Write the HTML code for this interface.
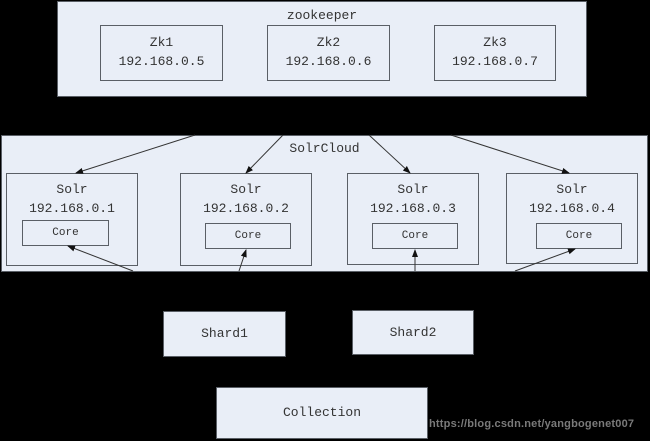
<!DOCTYPE html>
<html><head><style>
body{margin:0;width:650px;height:441px;background:#000;position:relative;overflow:hidden;font-family:"Liberation Mono","Noto Serif CJK SC",monospace;color:#333}
.b{position:absolute;background:#e9eef7;border:1px solid #5a5f66;box-sizing:border-box;text-align:center}
.t{position:absolute;left:0;right:0;text-align:center;line-height:1}
</style></head><body>
<div class="b" style="left:57px;top:1px;width:530px;height:96px"><div class="t" style="top:7px;font-size:13px">zookeeper</div></div>
<div class="b" style="left:100px;top:25px;width:123px;height:56px"><div class="t" style="top:7px;font-size:13px;line-height:19px">Zk1<br>192.168.0.5</div></div>
<div class="b" style="left:267px;top:25px;width:123px;height:56px"><div class="t" style="top:7px;font-size:13px;line-height:19px">Zk2<br>192.168.0.6</div></div>
<div class="b" style="left:434px;top:25px;width:122px;height:56px"><div class="t" style="top:7px;font-size:13px;line-height:19px">Zk3<br>192.168.0.7</div></div>

<div class="b" style="left:1px;top:135px;width:647px;height:137px"><div class="t" style="top:6px;font-size:13px">SolrCloud</div></div>
<div class="b" style="left:6px;top:173px;width:132px;height:93px"><div class="t" style="top:6px;font-size:13px;line-height:19px">Solr<br>192.168.0.1</div></div>
<div class="b" style="left:180px;top:173px;width:132px;height:93px"><div class="t" style="top:6px;font-size:13px;line-height:19px">Solr<br>192.168.0.2</div></div>
<div class="b" style="left:347px;top:173px;width:132px;height:92px"><div class="t" style="top:6px;font-size:13px;line-height:19px">Solr<br>192.168.0.3</div></div>
<div class="b" style="left:506px;top:173px;width:132px;height:91px"><div class="t" style="top:6px;font-size:13px;line-height:19px">Solr<br>192.168.0.4</div></div>
<div class="b" style="left:22px;top:220px;width:87px;height:26px;font-size:11px;line-height:24px">Core</div>
<div class="b" style="left:205px;top:223px;width:86px;height:26px;font-size:11px;line-height:24px">Core</div>
<div class="b" style="left:372px;top:223px;width:86px;height:26px;font-size:11px;line-height:24px">Core</div>
<div class="b" style="left:536px;top:223px;width:86px;height:26px;font-size:11px;line-height:24px">Core</div>

<div class="b" style="left:163px;top:311px;width:123px;height:46px;font-size:13px;line-height:44px">Shard1</div>
<div class="b" style="left:352px;top:310px;width:122px;height:45px;font-size:13px;line-height:43px">Shard2</div>
<div class="b" style="left:216px;top:387px;width:212px;height:52px;font-size:13px;line-height:50px">Collection</div>
<div style="position:absolute;left:429px;top:418px;font:bold 11px 'Liberation Sans',sans-serif;color:#7a7a7a;letter-spacing:0.2px">https://blog.csdn.net/yangbogenet007</div>

<svg width="650" height="441" style="position:absolute;left:0;top:0">
<defs><marker id="a" markerWidth="8" markerHeight="8" refX="7" refY="4" orient="auto" markerUnits="userSpaceOnUse"><path d="M0,1 L8,4 L0,7z" fill="#111"/></marker></defs>
<g stroke="#333" stroke-width="1" marker-end="url(#a)">
<line x1="195" y1="135" x2="76" y2="173"/>
<line x1="283" y1="135" x2="246" y2="173"/>
<line x1="369" y1="135" x2="410" y2="173"/>
<line x1="451" y1="135" x2="569" y2="173"/>
<line x1="133" y1="271" x2="68" y2="246"/>
<line x1="239" y1="271" x2="246" y2="250"/>
<line x1="415" y1="271" x2="415" y2="250"/>
<line x1="515" y1="271" x2="575" y2="249"/>
</g></svg>
</body></html>
